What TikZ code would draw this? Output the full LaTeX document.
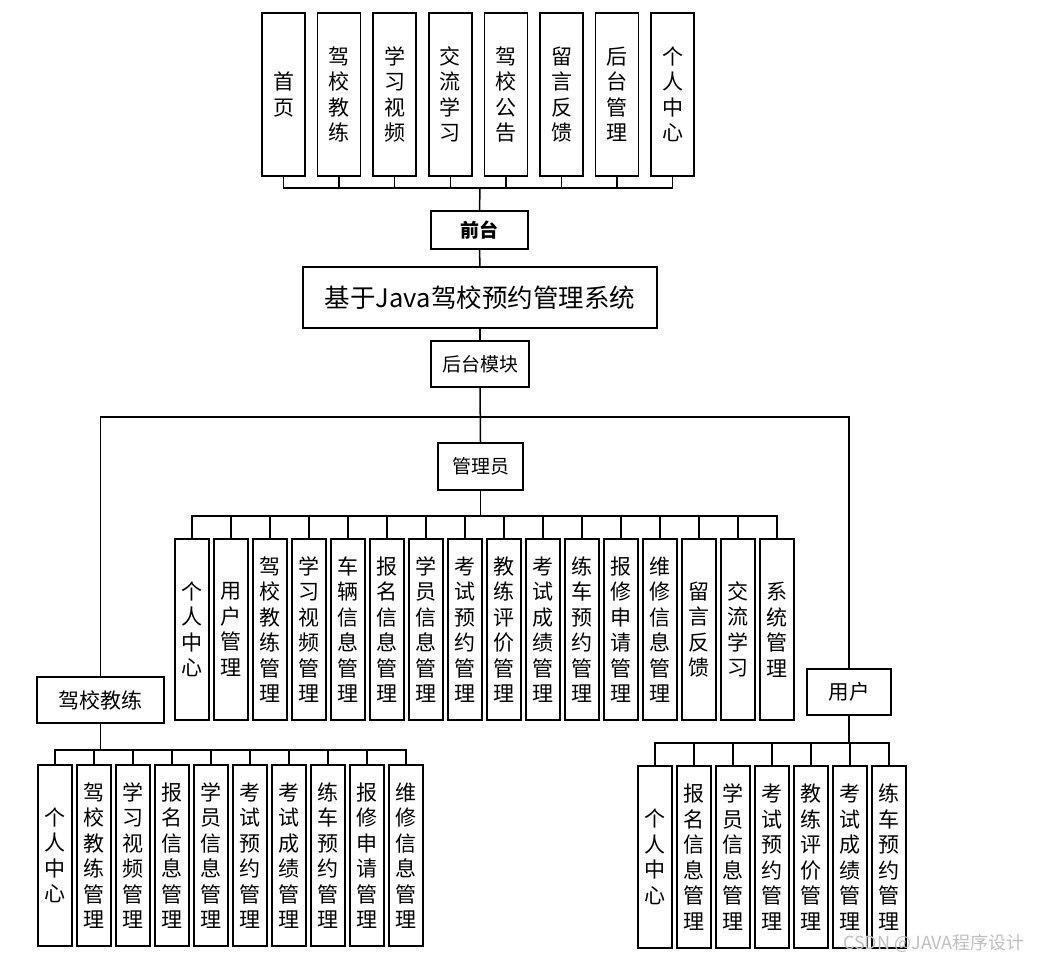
\documentclass[tikz,border=0pt]{standalone}
\usepackage{fontspec}
\setmainfont{Noto Sans CJK SC}
\usetikzlibrary{positioning}

\begin{document}
\begin{tikzpicture}[
    x=1pt,y=-1pt,
    line width=1.5pt,
    box/.style={draw,fill=white,inner sep=1pt,align=center},
    col/.style={box,minimum width=34pt,minimum height=181pt,font=\fontsize{21}{25.5}\selectfont},
    tcol/.style={col,minimum width=43pt,minimum height=163pt},
    head/.style={box,font=\fontsize{19}{22}\selectfont}
]
\useasboundingbox (0,0) rectangle (1046,962);

% front end
\foreach \t [count=\i] in {{首\\页},{驾\\校\\教\\练},{学\\习\\视\\频},{交\\流\\学\\习},
    {驾\\校\\公\\告},{留\\言\\反\\馈},{后\\台\\管\\理},{个\\人\\中\\心}}
  \node[tcol] (top\i) at ({283.5+55.6*(\i-1)},94.5) {\t};
\node[head,minimum width=97pt,minimum height=38pt,font=\fontsize{19}{22}\selectfont\bfseries] (front) at (479.5,230) {前台};
\coordinate (fhub) at (480,188);
\foreach \i in {1,...,8} \draw (top\i.south) |- (fhub);
\draw (fhub) -- (front.north);

% system and back end
\node[box,minimum width=354pt,minimum height=61pt,font=\fontsize{25.5}{28}\selectfont] (sys) at (480,297.5) {基于Java驾校预约管理系统};
\node[head,minimum width=98pt,minimum height=46pt] (back) at (480,364) {后台模块};
\draw (front.south) -- (sys.north);
\draw (sys.south) -- (back.north);

% roles
\node[head,minimum width=85pt,minimum height=47pt] (admin) at (480.5,466.5) {管理员};
\node[head,minimum width=127pt,minimum height=46pt,font=\fontsize{21}{24}\selectfont] (coach) at (100.5,700) {驾校教练};
\node[head,minimum width=84pt,minimum height=46pt,font=\fontsize{20.5}{24}\selectfont] (user) at (849,692) {用户};
\coordinate (bhub) at (480,417);
\draw (back.south) -- (admin.north);
\draw (coach.north) |- (bhub) -| (user.north);

% admin modules
\foreach \t [count=\i] in {{个\\人\\中\\心},{用\\户\\管\\理},{驾\\校\\教\\练\\管\\理},{学\\习\\视\\频\\管\\理},
    {车\\辆\\信\\息\\管\\理},{报\\名\\信\\息\\管\\理},{学\\员\\信\\息\\管\\理},{考\\试\\预\\约\\管\\理},
    {教\\练\\评\\价\\管\\理},{考\\试\\成\\绩\\管\\理},{练\\车\\预\\约\\管\\理},{报\\修\\申\\请\\管\\理},
    {维\\修\\信\\息\\管\\理},{留\\言\\反\\馈},{交\\流\\学\\习},{系\\统\\管\\理}}
  \node[col] (adm\i) at ({192+39*(\i-1)},629.5) {\t};
\coordinate (ahub) at (480.5,516);
\foreach \i in {1,...,16} \draw (adm\i.north) |- (ahub);
\draw (admin.south) -- (ahub);

% coach modules
\foreach \t [count=\i] in {{个\\人\\中\\心},{驾\\校\\教\\练\\管\\理},{学\\习\\视\\频\\管\\理},{报\\名\\信\\息\\管\\理},
    {学\\员\\信\\息\\管\\理},{考\\试\\预\\约\\管\\理},{考\\试\\成\\绩\\管\\理},{练\\车\\预\\约\\管\\理},
    {报\\修\\申\\请\\管\\理},{维\\修\\信\\息\\管\\理}}
  \node[col] (coach\i) at ({55+39*(\i-1)},855.5) {\t};
\coordinate (chub) at (100.5,750);
\foreach \i in {1,...,10} \draw (coach\i.north) |- (chub);
\draw (coach.south) -- (chub);

% user modules
\foreach \t [count=\i] in {{个\\人\\中\\心},{报\\名\\信\\息\\管\\理},{学\\员\\信\\息\\管\\理},{考\\试\\预\\约\\管\\理},
    {教\\练\\评\\价\\管\\理},{考\\试\\成\\绩\\管\\理},{练\\车\\预\\约\\管\\理}}
  \node[col,minimum height=182pt] (user\i) at ({655+39*(\i-1)},857) {\t};
\coordinate (uhub) at (849,743);
\foreach \i in {1,...,7} \draw (user\i.north) |- (uhub);
\draw (user.south) -- (uhub);

\node[text=gray!50,font=\fontsize{18}{20}\selectfont] (mark) at (934,943) {CSDN @JAVA程序设计};
\end{tikzpicture}
\end{document}
